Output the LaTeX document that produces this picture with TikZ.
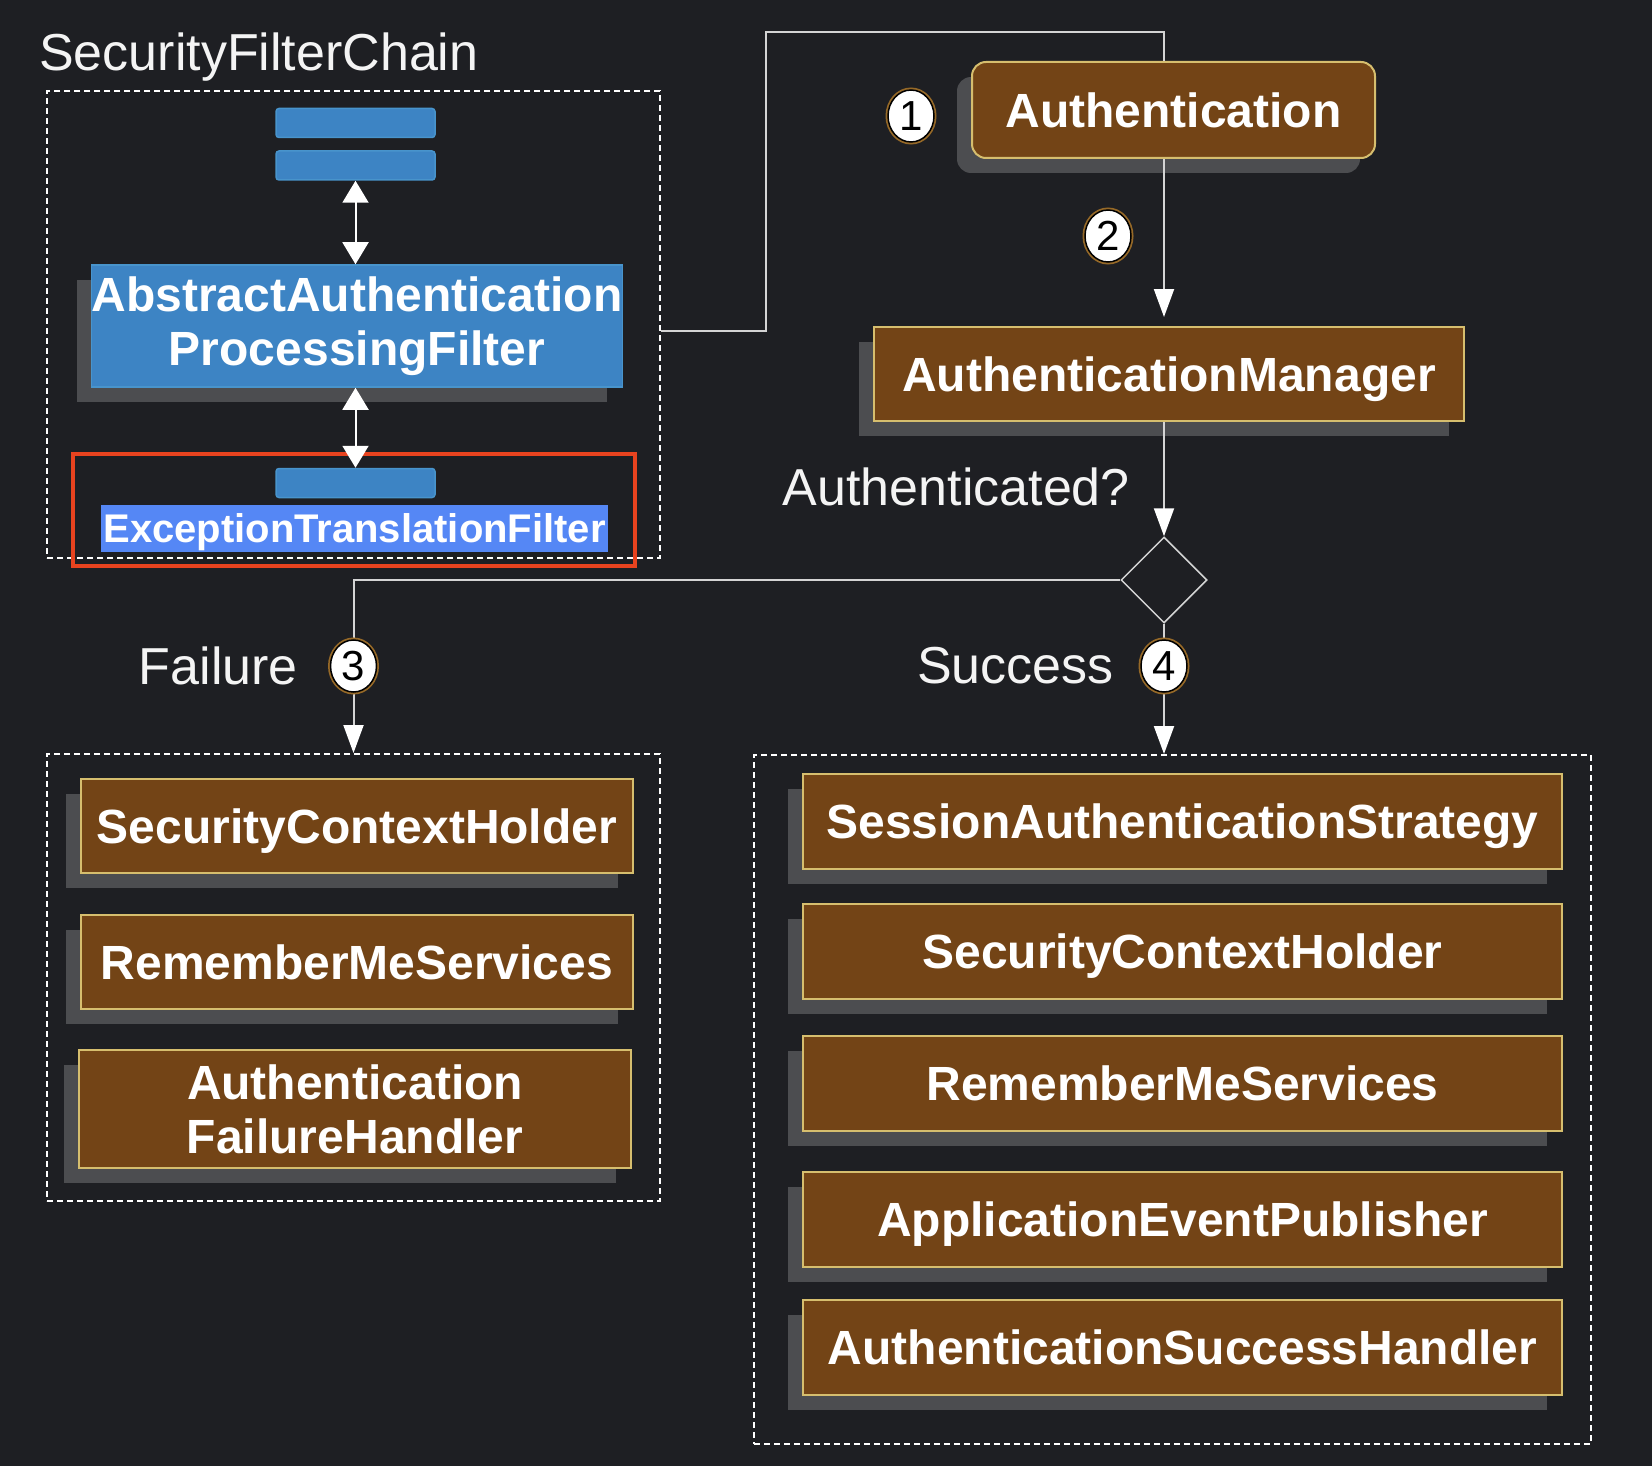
\documentclass[tikz,border=0pt]{standalone}
\usepackage{fontspec}
\setmainfont{Liberation Sans}
\usetikzlibrary{shapes.geometric,arrows.meta,shadows}
\definecolor{bg}{RGB}{30,31,35}
\definecolor{brownfill}{RGB}{115,68,22}
\definecolor{goldline}{RGB}{214,190,110}
\definecolor{bluefill}{RGB}{61,132,196}
\definecolor{blueline}{RGB}{72,148,204}
\definecolor{shadowgray}{RGB}{76,77,80}
\definecolor{linegray}{RGB}{212,212,212}
\definecolor{hilite}{RGB}{85,135,245}
\definecolor{redline}{RGB}{232,67,31}
\definecolor{halo}{RGB}{150,105,40}
\definecolor{txt}{RGB}{244,244,244}
\begin{document}
\begin{tikzpicture}[x=1pt,y=-1pt,
  boxfont/.style={font=\fontsize{48}{54}\selectfont\bfseries},
  lblfont/.style={font=\fontsize{52}{60}\selectfont},
  shadowed/.style={drop shadow={shadow xshift=-15pt,shadow yshift=-15pt,fill=shadowgray,opacity=1}},
  brbox/.style={draw=goldline,line width=2pt,fill=brownfill,text=white,boxfont,inner sep=0pt,align=center,shadowed},
  oneline/.style={text height=34.4pt,text depth=0pt},
  bluebox/.style={draw=blueline,line width=1.5pt,fill=bluefill,text=white,boxfont,inner sep=0pt,align=center},
  bar/.style={draw=blueline,line width=1.5pt,fill=bluefill,rounded corners=3pt,minimum width=159pt,minimum height=29pt,inner sep=0pt},
  dashbox/.style={draw=white,line width=2pt,dash pattern=on 6pt off 4pt,inner sep=0pt},
  conn/.style={draw=linegray,line width=2pt},
  arr/.style={conn,-{Triangle[length=28pt,width=20pt,color=white]}},
  darr/.style={draw=white,line width=2pt,{Triangle[length=22pt,width=26pt,color=white]}-{Triangle[length=22pt,width=26pt,color=white]}},
  lbl/.style={text=txt,lblfont,inner sep=0pt},
  numc/.style={ellipse,fill=white,draw=black,line width=1.5pt,preaction={draw=halo,line width=5pt},minimum width=46pt,minimum height=52pt,inner sep=0pt,text=black,font=\fontsize{42}{42}\selectfont}
]
\fill[bg] (0,0) rectangle (1652,1466);
\useasboundingbox (0,0) rectangle (1652,1466);

% Security filter chain
\node[lbl,anchor=west] (title) at (39,57) {SecurityFilterChain};
\node[dashbox,minimum width=613pt,minimum height=467pt] (chain) at (353.5,324.5) {};
\node[bar] (bar1) at (355.5,123) {};
\node[bar] (bar2) at (355.5,165.5) {};
\node[bluebox,shadowed,minimum width=530pt,minimum height=122pt] (aapf) at (357,326) {AbstractAuthentication\\ProcessingFilter};
\node[bar] (bar3) at (355.5,483) {};
\node[fill=hilite,text=white,font=\fontsize{40}{44}\selectfont\bfseries,minimum width=507pt,minimum height=47pt,inner sep=0pt,text height=28.6pt,text depth=0pt] (etf) at (354.5,528.5) {ExceptionTranslationFilter};
\node[draw=redline,line width=3.5pt,minimum width=562pt,minimum height=112pt,inner sep=0pt] (red) at (354,510) {};
\draw[darr] (bar2.south) -- (bar2.south |- aapf.north);
\draw[darr] (bar3.north |- aapf.south) -- (bar3.north);

% Right column
\coordinate (col) at (1164,32);
\coordinate (j1) at (766,331);
\node[brbox,oneline,rounded corners=14pt,minimum width=403pt,minimum height=96pt] (auth) at (1173.5,110) {Authentication};
\node[brbox,oneline,minimum width=590pt,minimum height=94pt] (mgr) at (1169,374) {AuthenticationManager};
\node[diamond,draw=linegray,line width=1.5pt,minimum size=86pt,inner sep=0pt] (dec) at (1164,580) {};
\node[lbl,anchor=east] (authq) at (1130,487) {Authenticated?};

\draw[conn] (j1 -| chain.east) -- (j1) |- (col) -- (auth.north -| col);
\draw[arr,shorten >=9pt] (auth.south -| col) -- (mgr.north -| col);
\draw[arr] (mgr.south -| dec) -- (dec.north);

% Failure branch
\node[dashbox,minimum width=613pt,minimum height=447pt] (fbox) at (353.5,977.5) {};
\node[brbox,oneline,minimum width=552pt,minimum height=94pt] (fsch) at (357,826) {SecurityContextHolder};
\node[brbox,oneline,minimum width=552pt,minimum height=94pt] (frms) at (357,962) {RememberMeServices};
\node[brbox,minimum width=552pt,minimum height=118pt] (fafh) at (355,1109) {Authentication\\FailureHandler};
\draw[arr] (dec.west) -| (fbox.north);
\node[lbl,anchor=east] (flbl) at (298,666) {Failure};
\node[numc] (n3) at (353.5,666) {3};

% Success branch
\node[dashbox,minimum width=837pt,minimum height=689pt] (sbox) at (1172.5,1099.5) {};
\node[brbox,oneline,minimum width=759pt,minimum height=95pt] (ssas) at (1182.5,821.5) {SessionAuthenticationStrategy};
\node[brbox,oneline,minimum width=759pt,minimum height=95pt] (ssch) at (1182.5,951.5) {SecurityContextHolder};
\node[brbox,oneline,minimum width=759pt,minimum height=95pt] (srms) at (1182.5,1083.5) {RememberMeServices};
\node[brbox,oneline,minimum width=759pt,minimum height=95pt] (saep) at (1182.5,1219) {ApplicationEventPublisher};
\node[brbox,oneline,minimum width=759pt,minimum height=95pt] (sash) at (1182.5,1347.5) {AuthenticationSuccessHandler};
\draw[arr] (dec.south) -- (dec.south |- sbox.north);
\node[lbl,anchor=east] (slbl) at (1114,666) {Success};
\node[numc] (n4) at (1164,666) {4};

% Step numbers
\node[numc] (n1) at (911,116) {1};
\node[numc] (n2) at (1108,236) {2};
\end{tikzpicture}
\end{document}
